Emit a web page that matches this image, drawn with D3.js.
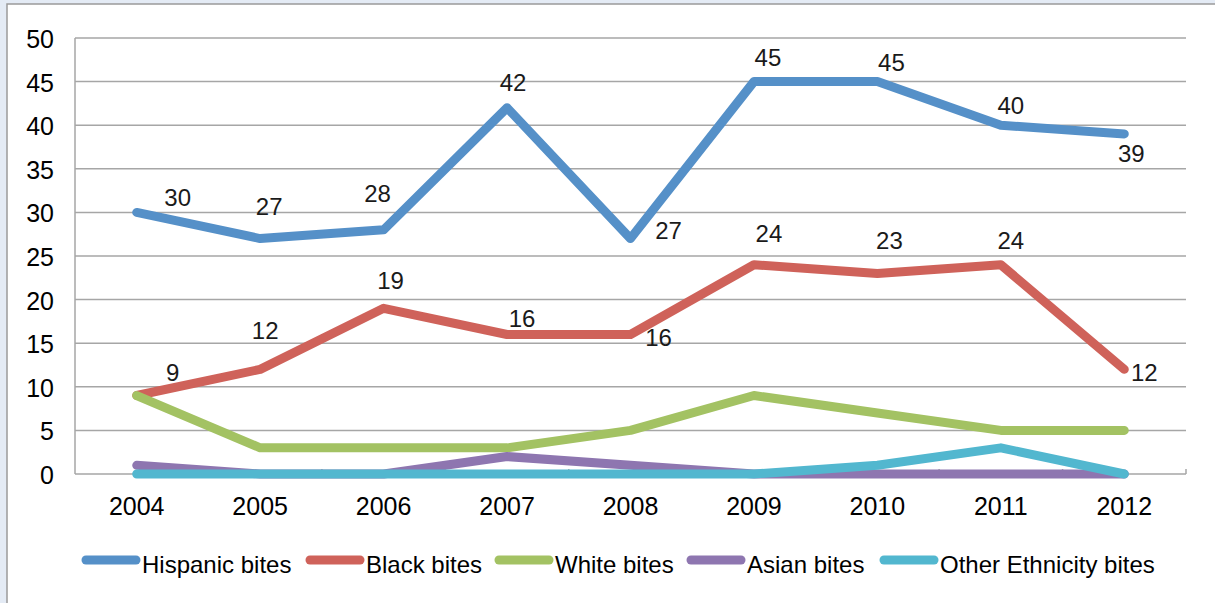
<!DOCTYPE html>
<html>
<head>
<meta charset="utf-8">
<script src="https://cdn.jsdelivr.net/npm/d3@7"></script>
<style>
  body { margin: 0; background: #e4ebf5; }
  #chart { width: 1215px; height: 603px; }
  text { font-family: "Liberation Sans", Arial, sans-serif; }
</style>
</head>
<body>
<div id="chart"></div>
<script>
// data
const years = ["2004", "2005", "2006", "2007", "2008", "2009", "2010", "2011", "2012"];
const hispanic = [30, 27, 28, 42, 27, 45, 45, 40, 39];
const black = [9, 12, 19, 16, 16, 24, 23, 24, 12];
const white = [9, 3, 3, 3, 5, 9, 7, 5, 5];
const asian = [1, 0, 0, 2, 1, 0, 0, 0, 0];
const other = [0, 0, 0, 0, 0, 0, 1, 3, 0];
const seriesNames = ["Hispanic bites", "Black bites", "White bites", "Asian bites", "Other Ethnicity bites"];
const yTicks = [0, 5, 10, 15, 20, 25, 30, 35, 40, 45, 50];

// label offsets (dx, dy from the point) for the two labelled series
const hispLabelOff = [[41, -15], [9, -32], [-6, -36], [6, -25], [38, -8], [14, -24], [14, -19], [10, -20], [7, 20]];
const blackLabelOff = [[36, -23], [5, -39], [7, -28], [15, -16], [28, 3], [15, -31], [12, -33], [10, -24], [20, 3]];

const colors = ["#5590c8", "#cf625a", "#a3c263", "#8e76b0", "#52b7cf"];

const width = 1215, height = 603;
const svg = d3.select("#chart").append("svg")
    .attr("width", width)
    .attr("height", height);

// chart frame
svg.append("rect")
    .attr("x", 7).attr("y", 4)
    .attr("width", width).attr("height", height)
    .attr("fill", "#ffffff")
    .attr("stroke", "#9a9a9a")
    .attr("stroke-width", 1.5);

const x = d3.scaleBand().domain(years).range([75, 1186]).padding(0);
const y = d3.scaleLinear().domain([0, 50]).range([474, 38]);
const cx = d => x(d) + x.bandwidth() / 2;

// gridlines
svg.selectAll("line.grid")
    .data(yTicks)
    .enter()
    .append("line")
        .attr("class", "grid")
        .attr("x1", 75).attr("x2", 1186)
        .attr("y1", d => y(d)).attr("y2", d => y(d))
        .attr("stroke", "#a6a6a6")
        .attr("stroke-width", 1.5);

// y axis line
svg.append("line")
    .attr("x1", 75).attr("x2", 75)
    .attr("y1", y(50)).attr("y2", y(0))
    .attr("stroke", "#a6a6a6")
    .attr("stroke-width", 1.5);

// x tick marks between categories
const bounds = years.map(d => x(d)).concat([1186]).slice(1);
svg.selectAll("line.xtick")
    .data(bounds)
    .enter()
    .append("line")
        .attr("class", "xtick")
        .attr("x1", d => d).attr("x2", d => d)
        .attr("y1", y(0)).attr("y2", y(0) - 5)
        .attr("stroke", "#a6a6a6")
        .attr("stroke-width", 1.5);

// y labels
svg.selectAll("text.ylab")
    .data(yTicks)
    .enter()
    .append("text")
        .attr("class", "ylab")
        .attr("x", 54)
        .attr("y", d => y(d) + 10)
        .attr("text-anchor", "end")
        .attr("font-size", "25px")
        .attr("fill", "#000")
        .text(d => d);

// x labels
svg.selectAll("text.xlab")
    .data(years)
    .enter()
    .append("text")
        .attr("class", "xlab")
        .attr("x", d => cx(d))
        .attr("y", 515)
        .attr("text-anchor", "middle")
        .attr("font-size", "25px")
        .attr("fill", "#000")
        .text(d => d);

// lines
const allSeries = [hispanic, black, white, asian, other];
const line = d3.line()
    .x((d, i) => cx(years[i]))
    .y(d => y(d));

svg.selectAll("path.series")
    .data(allSeries)
    .enter()
    .append("path")
        .attr("class", "series")
        .attr("d", d => line(d))
        .attr("fill", "none")
        .attr("stroke", (d, i) => colors[i])
        .attr("stroke-width", 9)
        .attr("stroke-linecap", "round")
        .attr("stroke-linejoin", "round");

// data labels
function addLabels(vals, offs) {
    svg.append("g").selectAll("text")
        .data(vals)
        .enter()
        .append("text")
            .attr("x", (d, i) => cx(years[i]) + offs[i][0])
            .attr("y", (d, i) => y(d) + offs[i][1] + 8.5)
            .attr("text-anchor", "middle")
            .attr("font-size", "24px")
            .attr("fill", "#1a1a1a")
            .text(d => d);
}
addLabels(hispanic, hispLabelOff);
addLabels(black, blackLabelOff);

// legend
const legendX = [82, 306, 495, 687, 880];
const legend = svg.selectAll("g.legend")
    .data(seriesNames)
    .enter()
    .append("g")
        .attr("class", "legend")
        .attr("transform", (d, i) => "translate(" + legendX[i] + ",560)");

legend.append("line")
    .attr("x1", 4).attr("x2", 54)
    .attr("y1", 0).attr("y2", 0)
    .attr("stroke", (d, i) => colors[i])
    .attr("stroke-width", 9)
    .attr("stroke-linecap", "round");

legend.append("text")
    .attr("x", 60)
    .attr("y", 13)
    .attr("font-size", "24px")
    .attr("fill", "#000")
    .text(d => d);
</script>
</body>
</html>
